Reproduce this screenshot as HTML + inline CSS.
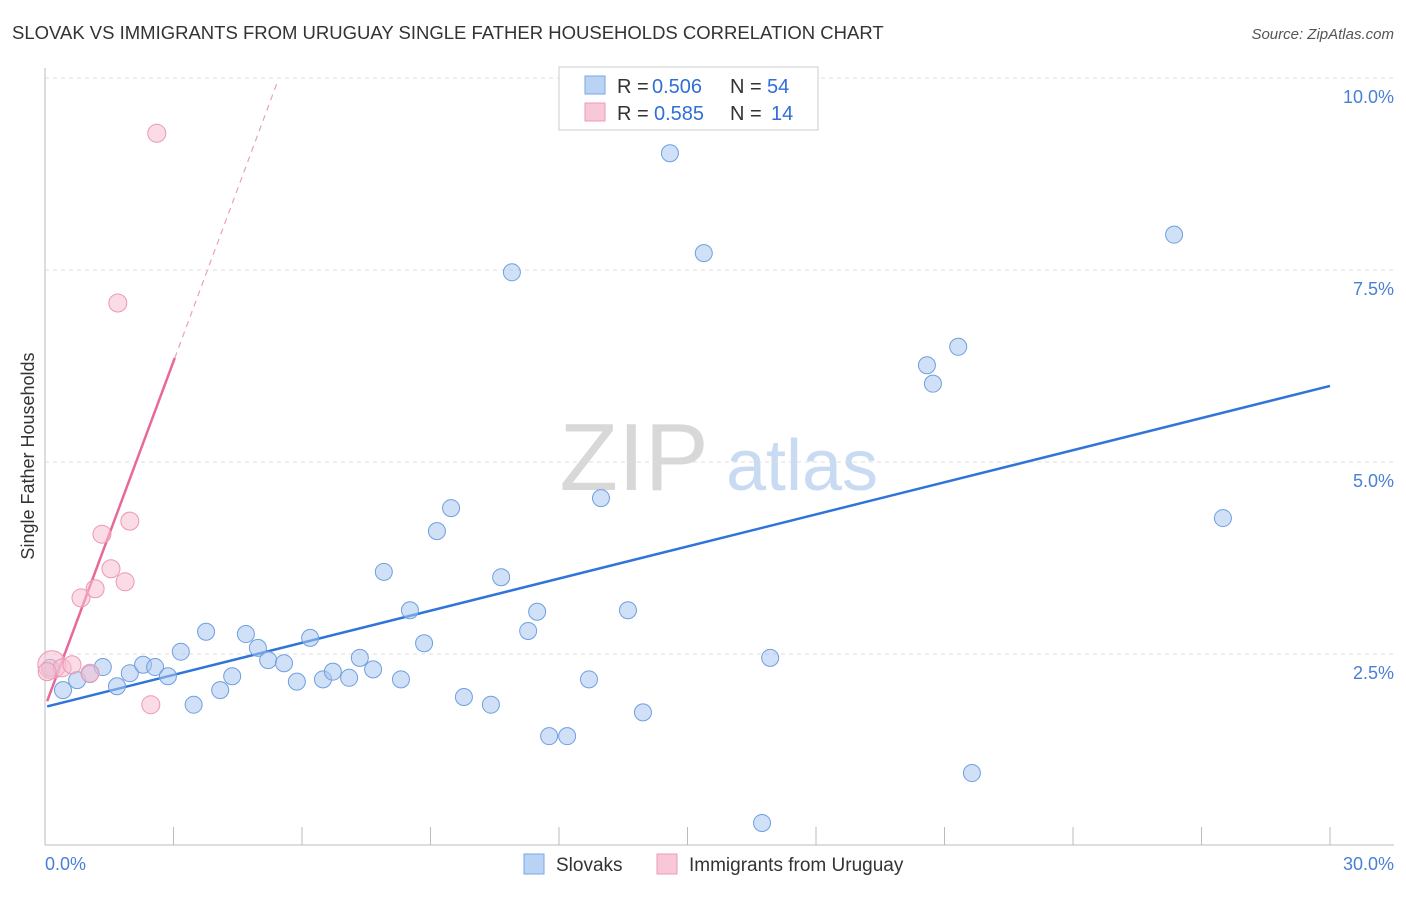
<!DOCTYPE html>
<html><head><meta charset="utf-8"><style>
body{margin:0;background:#fff;font-family:"Liberation Sans",sans-serif;}
svg text{font-family:"Liberation Sans",sans-serif;}
</style></head><body>
<svg id="chart" width="1406" height="892" viewBox="0 0 1406 892" xmlns="http://www.w3.org/2000/svg">
<text x="12" y="39" font-size="18.5" fill="#333">SLOVAK VS IMMIGRANTS FROM URUGUAY SINGLE FATHER HOUSEHOLDS CORRELATION CHART</text>
<text x="1394" y="39" font-size="15" fill="#555" text-anchor="end" font-style="italic">Source: ZipAtlas.com</text>
<g>
<text x="634" y="490" font-size="96" fill="#d8d8d8" font-family="Liberation Serif" text-anchor="middle">ZIP</text>
<text x="802" y="490" font-size="72" fill="#c8dbf3" text-anchor="middle">atlas</text>
</g>
<g id="grid"></g>
<g id="axes"></g>
<g id="lines"></g>
<g id="points"></g>
<text transform="translate(34,456) rotate(-90)" font-size="18" fill="#333" text-anchor="middle">Single Father Households</text>
<g>
<rect x="559" y="67" width="259" height="63" fill="#fff" stroke="#ccc"/>
<rect x="585" y="76" width="20" height="18" fill="#b9d3f5" stroke="#7aa6e6"/>
<g font-size="20">
<text x="617" y="93" fill="#333">R =</text><text x="652" y="93" fill="#2f6fd6">0.506</text>
<text x="730" y="93" fill="#333">N =</text><text x="767" y="93" fill="#2f6fd6">54</text></g>
<rect x="585" y="103" width="20" height="18" fill="#f9c8d8" stroke="#ec9ab6"/>
<g font-size="20">
<text x="617" y="120" fill="#333">R =</text><text x="654" y="120" fill="#2f6fd6">0.585</text>
<text x="730" y="120" fill="#333">N =</text><text x="771" y="120" fill="#2f6fd6">14</text></g>
</g>
<g>
<rect x="524" y="854" width="20" height="20" fill="#b9d3f5" stroke="#7aa6e6"/>
<text x="556" y="871" font-size="19" fill="#333">Slovaks</text>
<rect x="657" y="854" width="20" height="20" fill="#f9c8d8" stroke="#ec9ab6"/>
<text x="689" y="871" font-size="19" fill="#333">Immigrants from Uruguay</text>
</g>
</svg>
<script>
const blueX=[0.42,0.75,1.05,1.35,1.68,1.98,2.29,2.57,2.87,3.17,3.47,3.76,4.09,4.37,4.69,4.97,5.21,5.58,5.88,6.19,6.49,6.72,7.10,7.35,7.66,7.91,8.31,8.52,8.85,9.15,9.48,9.78,10.41,10.65,10.90,11.28,11.49,11.77,12.19,12.70,12.98,13.61,13.96,14.59,15.38,16.93,16.74,20.59,20.73,21.32,21.64,26.36,27.50,0.12];
const blueY=[2.03,2.16,2.24,2.33,2.08,2.25,2.36,2.33,2.21,2.53,1.84,2.79,2.03,2.21,2.76,2.58,2.42,2.38,2.14,2.71,2.17,2.27,2.19,2.45,2.30,3.57,2.17,3.07,2.64,4.10,4.40,1.94,1.84,3.50,7.47,2.80,3.05,1.43,1.43,2.17,4.53,3.07,1.74,9.02,7.72,2.45,0.30,6.26,6.02,6.50,0.95,7.96,4.27,2.32];
const pinkX=[0.16,0.40,0.63,1.05,0.84,1.17,1.33,1.54,1.87,1.98,1.70,2.61,2.47,0.05];
const pinkY=[2.36,2.32,2.36,2.25,3.23,3.35,4.06,3.61,3.44,4.23,7.07,9.28,1.84,2.27];
const pinkR=[14,9,9,9,9,9,9,9,9,9,9,9,9,9];
const blueLine=[1.81,5.99]; // y at x=0, x=30
const pinkLine=[1.81,1.5]; // intercept, slope
const yTicks=[2.5,5.0,7.5,10.0];
const yTickLabels=["2.5%","5.0%","7.5%","10.0%"];
const xMin=0,xMax=30,yMin=0,yMax=10;
const X=v=>45+(v-xMin)/(xMax-xMin)*1285;
const Y=v=>846-(v-yMin)/(yMax-yMin)*768;
const NS="http://www.w3.org/2000/svg";
function mk(tag,attrs,parent){const e=document.createElementNS(NS,tag);for(const k in attrs)e.setAttribute(k,attrs[k]);document.getElementById(parent).appendChild(e);return e;}
yTicks.forEach((t,i)=>{
 const g=mk('line',{x1:45,x2:1394,y1:Y(t),y2:Y(t),stroke:'#ddd','stroke-dasharray':'4,4'},'grid');
 
 
 const l=mk('text',{x:1394,y:Y(t)+25,'font-size':18,fill:'#4a7fd6','text-anchor':'end'},'axes');
 l.textContent=yTickLabels[i];
 
 
});
const ax=mk('line',{x1:45,x2:1394,y1:845,y2:845,stroke:'#bbb'},'axes');


const ay=mk('line',{x1:45,x2:45,y1:68,y2:845,stroke:'#bbb'},'axes');


for(let i=0;i<=10;i++){
 const t=mk('line',{x1:X(i*3),x2:X(i*3),y1:827,y2:845,stroke:'#bbb'},'axes');
 
 
}
const x0=mk('text',{x:45,y:870,'font-size':18,fill:'#4a7fd6'},'axes');x0.textContent='0.0%';


const x1=mk('text',{x:1394,y:870,'font-size':18,fill:'#4a7fd6','text-anchor':'end'},'axes');x1.textContent='30.0%';


const bl=mk('line',{x1:X(0.05),y1:Y(blueLine[0]+(blueLine[1]-blueLine[0])*0.05/30),x2:X(30),y2:Y(blueLine[1]),stroke:'#2f74d8','stroke-width':2.5},'lines');


const pEnd=3.03,pDash=(9.95-pinkLine[0])/pinkLine[1];
const pl=mk('line',{x1:X(0.05),y1:Y(pinkLine[0]+pinkLine[1]*0.05),x2:X(pEnd),y2:Y(pinkLine[0]+pinkLine[1]*pEnd),stroke:'#e8689a','stroke-width':2.5},'lines');


const pd=mk('line',{x1:X(pEnd),y1:Y(pinkLine[0]+pinkLine[1]*pEnd),x2:X(pDash),y2:Y(pinkLine[0]+pinkLine[1]*pDash),stroke:'#eaa0bc','stroke-width':1.2,'stroke-dasharray':'6,5'},'lines');


blueX.forEach((v,i)=>{
 const c=mk('circle',{cx:X(v),cy:Y(blueY[i]),r:8.5,fill:'rgba(167,198,240,0.55)',stroke:'#6f9fe0','stroke-width':1},'points');
 
 
});
pinkX.forEach((v,i)=>{
 const c=mk('circle',{cx:X(v),cy:Y(pinkY[i]),r:pinkR[i],fill:'rgba(248,190,210,0.55)',stroke:'#ec97b4','stroke-width':1},'points');
 
 
});
</script>
</body></html>
